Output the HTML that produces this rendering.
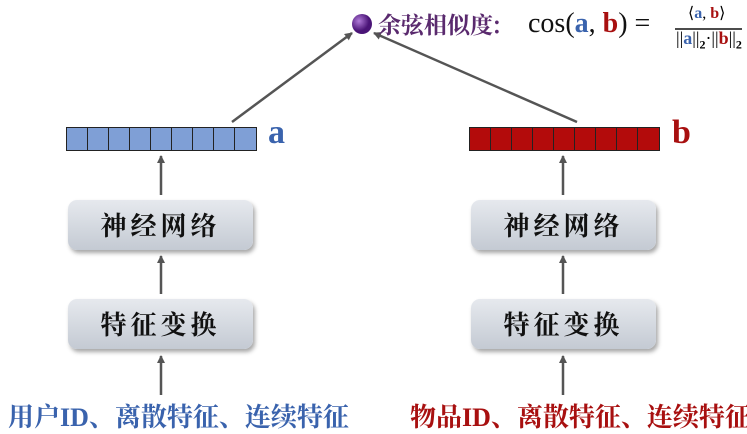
<!DOCTYPE html><html><head><meta charset="utf-8"><style>
body{margin:0;width:747px;height:431px;background:#fff;position:relative;overflow:hidden;font-family:"Liberation Serif","Noto Serif CJK SC",serif}
.vec{position:absolute;top:127px;height:22px;width:189px;display:grid;grid-template-columns:repeat(9,1fr);border:1px solid #222}
.vec div{border-right:1px solid #222}
.vec div:last-child{border-right:none}
.box{position:absolute;width:185px;height:50px;border-radius:9px;background:linear-gradient(#e6e9ee,#c4cad3);box-shadow:2px 3px 4px rgba(0,0,0,.35);font:bold 26px "Noto Serif CJK SC",serif;text-align:center;line-height:50px;letter-spacing:4px;color:#111}
.lbl{position:absolute;font:bold 26px "Liberation Serif","Noto Serif CJK SC",serif;top:397px;white-space:nowrap}
.ab{position:absolute;font:bold 34px 'Liberation Serif',serif}
</style></head><body>
<svg width="747" height="431" style="position:absolute;left:0;top:0">
<defs><marker id="m" markerWidth="8" markerHeight="8" refX="7" refY="4" orient="auto" markerUnits="userSpaceOnUse"><path d="M0,0 L8,4 L0,8 z" fill="#555"/></marker>
<radialGradient id="g" cx="35%" cy="35%"><stop offset="0" stop-color="#b07ad8"/><stop offset="1" stop-color="#4a1477"/></radialGradient></defs>
<g stroke="#555" stroke-width="2.5" marker-end="url(#m)">
<line x1="232" y1="122" x2="352" y2="33"/><line x1="577" y1="122" x2="374" y2="33"/>
<line x1="161" y1="195" x2="161" y2="156"/><line x1="161" y1="294" x2="161" y2="256"/><line x1="161" y1="395" x2="161" y2="356"/>
<line x1="563" y1="195" x2="563" y2="156"/><line x1="563" y1="294" x2="563" y2="256"/><line x1="563" y1="395" x2="563" y2="356"/>
</g>
<circle cx="362" cy="24" r="10" fill="url(#g)"/>
<line x1="675" y1="29" x2="742" y2="29" stroke="#111" stroke-width="1.5"/>
</svg>
<div style="position:absolute;left:378px;top:7px;font:bold 23px 'Noto Serif CJK SC',serif;color:#5a2a6e;white-space:nowrap">余弦相似度:</div>
<div style="position:absolute;left:528px;top:8px;font:28px 'Liberation Serif',serif;color:#111;white-space:nowrap">cos(<b style="color:#3a63ad">a</b>, <b style="color:#a81010">b</b>) =</div>
<div style="position:absolute;left:688px;top:3px;font:16px 'Liberation Serif',serif;white-space:nowrap">⟨<b style="color:#3a63ad">a</b>, <b style="color:#a81010">b</b>⟩</div>
<div style="position:absolute;left:676px;top:28px;font:18px 'Liberation Serif',serif;white-space:nowrap">||<b style="color:#3a63ad">a</b>||<sub style="font-size:12px;font-weight:bold">2</sub>·||<b style="color:#a81010">b</b>||<sub style="font-size:12px;font-weight:bold">2</sub></div>
<div class="vec" style="left:66px;background:#7f9fd6"><div></div><div></div><div></div><div></div><div></div><div></div><div></div><div></div><div></div></div>
<div class="vec" style="left:469px;background:#b30b0b"><div></div><div></div><div></div><div></div><div></div><div></div><div></div><div></div><div></div></div>
<div class="ab" style="left:268px;top:114px;color:#3a63ad">a</div>
<div class="ab" style="left:672px;top:114px;color:#a81010">b</div>
<div class="box" style="left:68px;top:200px">神经网络</div>
<div class="box" style="left:68px;top:299px">特征变换</div>
<div class="box" style="left:471px;top:200px">神经网络</div>
<div class="box" style="left:471px;top:299px">特征变换</div>
<div class="lbl" style="left:8px;color:#3a63ad">用户ID、离散特征、连续特征</div>
<div class="lbl" style="left:410px;color:#a81010">物品ID、离散特征、连续特征</div>
</body></html>
